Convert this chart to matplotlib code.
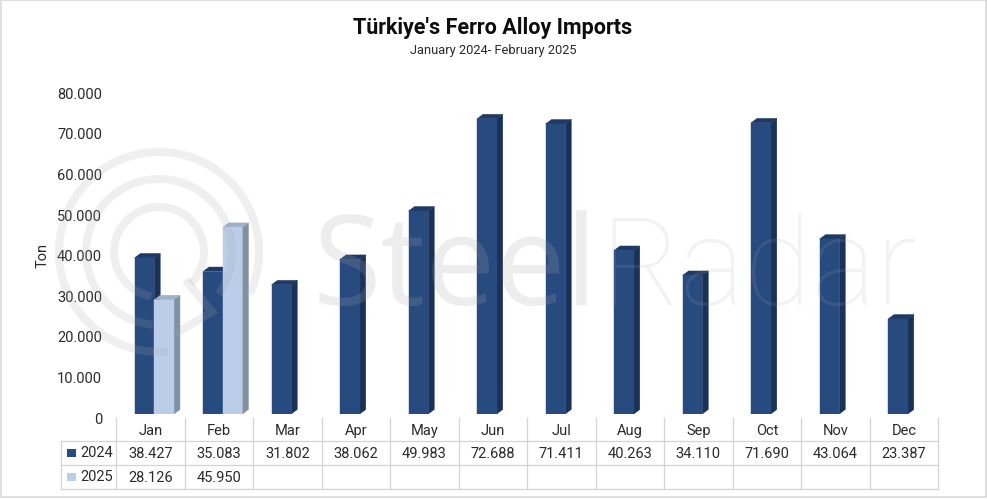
import matplotlib
matplotlib.use("Agg")
import matplotlib.pyplot as plt
from matplotlib.patches import Arc, Polygon, Rectangle
from matplotlib.transforms import ScaledTranslation

months = ["Jan", "Feb", "Mar", "Apr", "May", "Jun", "Jul", "Aug", "Sep", "Oct", "Nov", "Dec"]
imports_2024 = [38427, 35083, 31802, 38062, 49983, 72688, 71411, 40263, 34110, 71690, 43064, 23387]
imports_2025 = [28126, 45950]
y_ticks = [0, 10000, 20000, 30000, 40000, 50000, 60000, 70000, 80000]

W, H = 987, 499
FONT = "Roboto"
TEXT = "#2b2b2b"
GRID = "#d4d4d4"

# (front, side, top)
COL_2024 = ("#274a7f", "#1a3158", "#1e3965")
COL_2025 = ("#bacee9", "#8090a6", "#9fb0c7")


def fmt(v):
    return f"{v:,}".replace(",", ".")


def draw_bars(ax, xs, vals, width, cols, dx, dy):
    for x, v in zip(xs, vals):
        left, right = x - width / 2, x + width / 2
        ax.add_patch(Polygon([(right, 0), (right + dx, dy), (right + dx, v + dy), (right, v)],
                             facecolor=cols[1], edgecolor=cols[1], lw=0.3, zorder=3))
        ax.add_patch(Polygon([(left, v), (left + dx, v + dy), (right + dx, v + dy), (right, v)],
                             facecolor=cols[2], edgecolor=cols[2], lw=0.3, zorder=3))
        ax.bar(x, v, width=width, color=cols[0], edgecolor=cols[0], lw=0.3, zorder=3)


fig = plt.figure(figsize=((W + 0.1) / 100, (H + 0.1) / 100), dpi=100)
fig.patch.set_facecolor("white")

# main axes, base of the bars at y=414 px, 4.06 px per 1000 ton
top_px = 414 - 80 * 4.06
ax = fig.add_axes([116 / W, 1 - 414 / H, (938 - 116) / W, (414 - top_px) / H])
ax.set_xlim(-0.5, 11.5)
ax.set_ylim(0, 80000)
ax.patch.set_alpha(0)
for s in ax.spines.values():
    s.set_visible(False)
ax.set_xticks([])
ax.set_yticks(y_ticks)
ax.set_yticklabels([fmt(v) for v in y_ticks], fontsize=10.5, family=FONT, color=TEXT)
ax.tick_params(axis="y", length=0, pad=10)
shift = ScaledTranslation(0, -4 / 100, fig.dpi_scale_trans)
for lab in ax.get_yticklabels():
    lab.set_transform(lab.get_transform() + shift)

slot = 0.288
dx_data = 6 / 68.5
dy_data = 4.5 / 4.06 * 1000
draw_bars(ax, [i - 0.086 for i in range(len(imports_2024))], imports_2024, slot, COL_2024, dx_data, dy_data)
draw_bars(ax, [i + 0.202 for i in range(len(imports_2025))], imports_2025, slot, COL_2025, dx_data, dy_data)

# pixel overlay for frame, table, titles and the watermark
ov = fig.add_axes([0, 0, 1, 1])
ov.set_xlim(0, W)
ov.set_ylim(H, 0)
ov.axis("off")
ov.patch.set_alpha(0)

ov.add_patch(Rectangle((0.5, 0.5), W - 1.5, H - 2, fill=False, edgecolor="#d9d9d9", lw=1.2))

ov.text(493, 27.5, "Türkiye's Ferro Alloy Imports", ha="center", va="center",
        fontsize=15.5, fontweight="bold", family=FONT, color="#0d0d0d")
ov.text(493, 50, "January 2024- February 2025", ha="center", va="center",
        fontsize=9.3, family=FONT, color=TEXT)
ov.text(43, 255, "Ton", ha="center", va="center", rotation=90, fontsize=10.5, family=FONT, color=TEXT)

# table
table_left, col0, table_right = 61, 116, 938
row_y = [418, 441.5, 465.5, 489]
col_w = (table_right - col0) / len(months)
for y in row_y[1:]:
    ov.plot([table_left, table_right], [y, y], color=GRID, lw=0.9)
ov.plot([table_left, table_left], [row_y[1], row_y[3]], color=GRID, lw=0.9)
for i in range(len(months) + 1):
    x = col0 + i * col_w
    ov.plot([x, x], [row_y[0], row_y[3]], color=GRID, lw=0.9)
for i, m in enumerate(months):
    cx = col0 + (i + 0.5) * col_w
    ov.text(cx, 431, m, ha="center", va="center", fontsize=10.5, family=FONT, color=TEXT)
    ov.text(cx, 453.5, fmt(imports_2024[i]), ha="center", va="center", fontsize=10.5, family=FONT, color=TEXT)
    if i < len(imports_2025):
        ov.text(cx, 477.5, fmt(imports_2025[i]), ha="center", va="center", fontsize=10.5, family=FONT, color=TEXT)
for y, name, col in [(453, "2024", COL_2024[0]), (477, "2025", COL_2025[0])]:
    ov.add_patch(Rectangle((67, y - 4), 9, 8, facecolor=col, edgecolor="none"))
    ov.text(80, y - 0.5, name, ha="left", va="center", fontsize=10.5, family=FONT, color=TEXT)

# watermark
WM = "#a8a8a8"
ov.text(313, 305, "Steel", ha="left", va="baseline", fontsize=90, family="Open Sans",
        color=WM, alpha=0.2, zorder=5)
ov.text(600, 305, "Radar", ha="left", va="baseline", fontsize=88, family="Roboto", fontweight="light",
        color=WM, alpha=0.15, zorder=5)
for r, lw, t1, t2 in [(100, 5.8, 85, 385), (73, 5.8, 95, 395), (45, 5.8, 100, 405)]:
    ov.add_patch(Arc((159, 252), 2 * r, 2 * r, theta1=t1, theta2=t2, color=WM, lw=lw, alpha=0.18, zorder=5))
ov.plot([188, 212, 178], [283, 312, 332], color=WM, lw=5.8, alpha=0.18, zorder=5, solid_joinstyle="miter")

fig.savefig("out.png", dpi=100)
